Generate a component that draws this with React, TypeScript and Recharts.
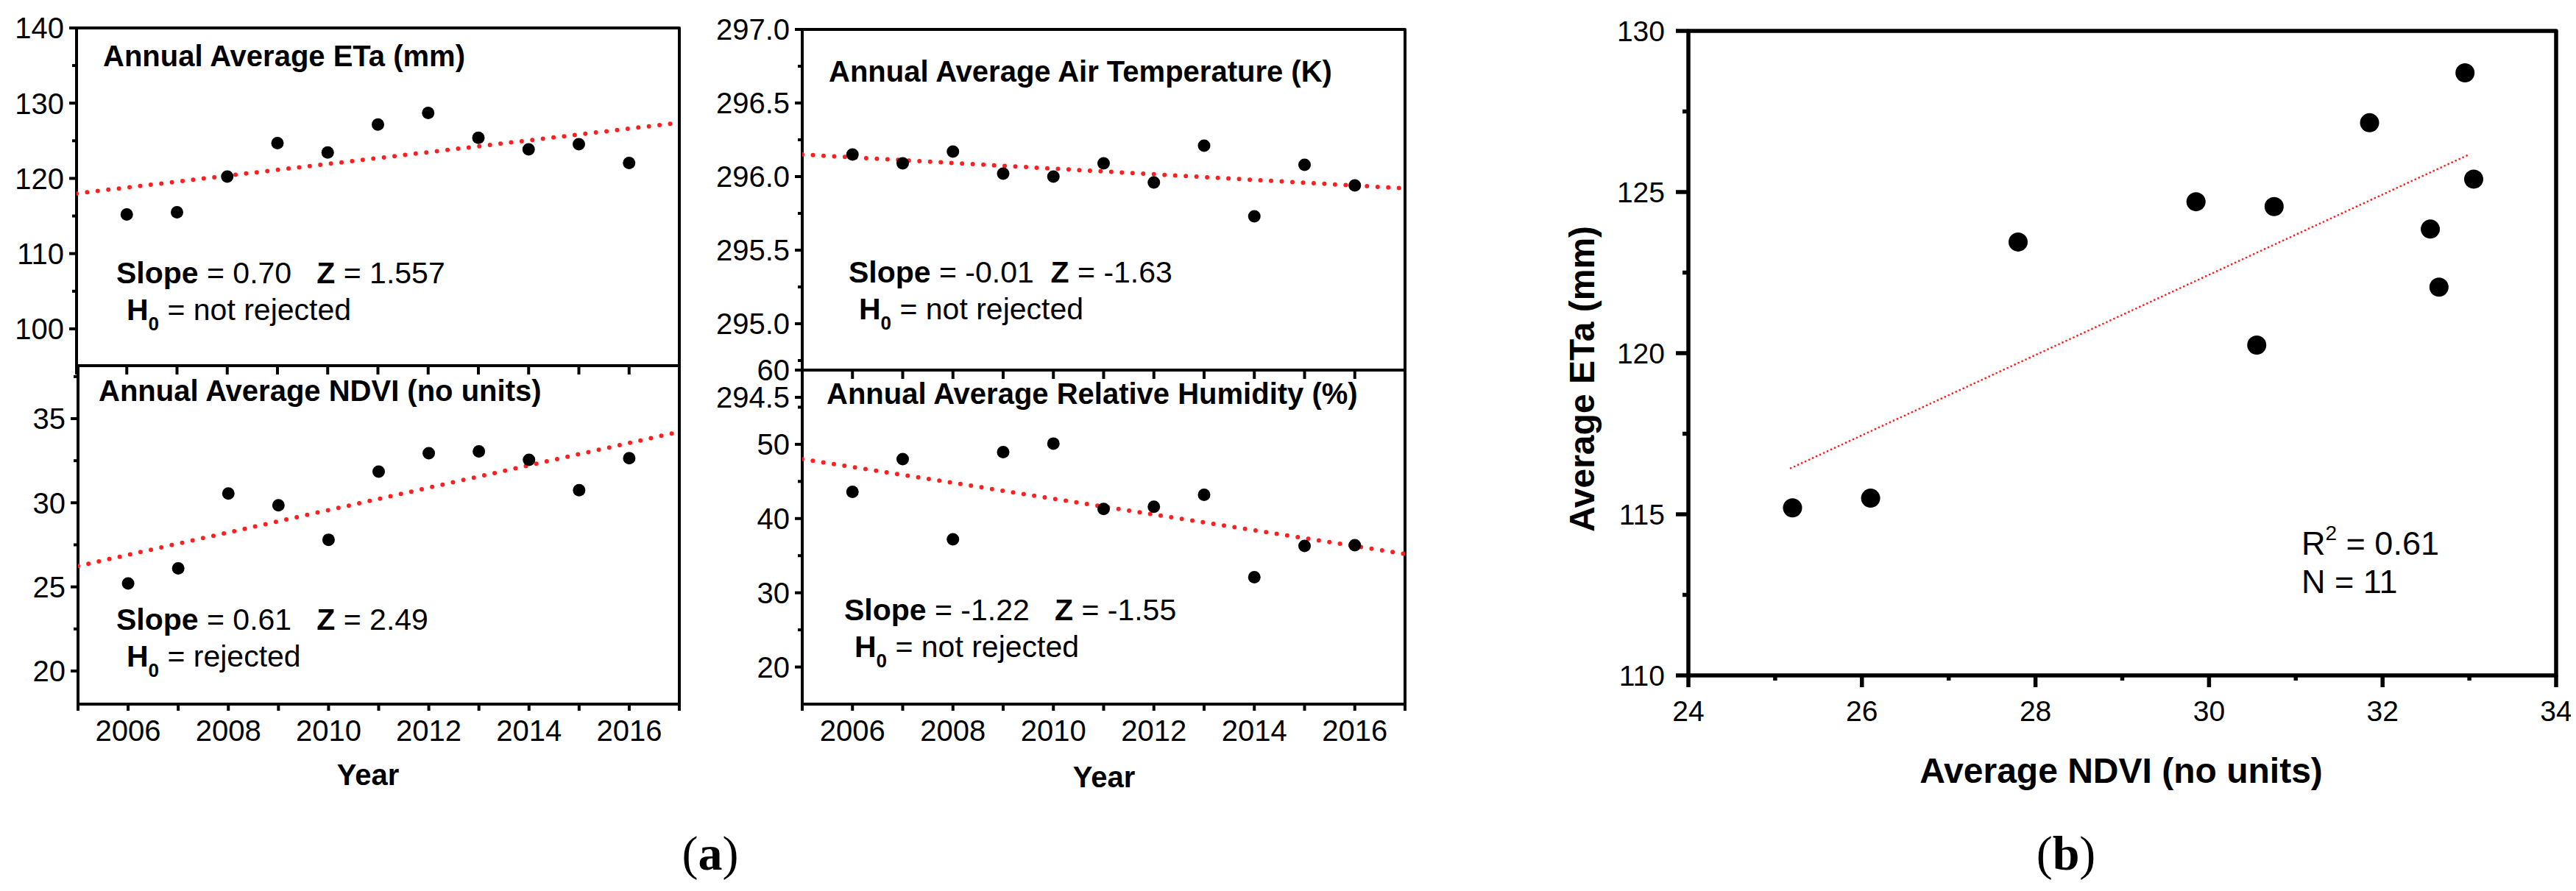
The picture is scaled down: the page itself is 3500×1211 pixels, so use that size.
import React from "react";
import { ScatterChart, Scatter, XAxis, YAxis, ReferenceArea } from "recharts";

// ---- data ----
const years = [2006, 2007, 2008, 2009, 2010, 2011, 2012, 2013, 2014, 2015, 2016];
const etaValues = [115.2, 115.5, 120.25, 124.7, 123.45, 127.15, 128.7, 125.4, 123.85, 124.55, 122.05];
const ndviValues = [25.2, 26.1, 30.55, 29.85, 27.8, 31.85, 32.95, 33.05, 32.55, 30.75, 32.65];
const airTempValues = [296.15, 296.09, 296.17, 296.02, 296.0, 296.09, 295.96, 296.21, 295.73, 296.08, 295.94];
const humidityValues = [43.6, 48.0, 37.2, 48.95, 50.1, 41.3, 41.6, 43.2, 32.1, 36.3, 36.4];

// trend lines (end points)
const trendYears = [2005, 2017];
const etaTrend = [118.0, 127.4];
const ndviTrend = [26.24, 34.22];
const airTempTrend = [296.15, 295.92];
const humidityTrend = [48.0, 35.23];
const scatterTrendX = [25.18, 33.01];
const scatterTrendY = [116.43, 126.18];

// ticks
const yearTicks = [2005, 2006, 2007, 2008, 2009, 2010, 2011, 2012, 2013, 2014, 2015, 2016, 2017];
const yearLabels = [2006, 2008, 2010, 2012, 2014, 2016];
const etaTicks = [100, 105, 110, 115, 120, 125, 130, 135, 140];
const etaLabels = [100, 110, 120, 130, 140];
const ndviTicks = [20, 22.5, 25, 27.5, 30, 32.5, 35, 37.5];
const ndviLabels = [20, 25, 30, 35];
const airTempTicks = [294.5, 294.75, 295, 295.25, 295.5, 295.75, 296, 296.25, 296.5, 296.75, 297];
const airTempLabels = [294.5, 295, 295.5, 296, 296.5, 297];
const humidityTicks = [20, 25, 30, 35, 40, 45, 50, 55, 60];
const humidityLabels = [20, 30, 40, 50, 60];
const bXTicks = [24, 25, 26, 27, 28, 29, 30, 31, 32, 33, 34];
const bXLabels = [24, 26, 28, 30, 32, 34];
const bYTicks = [110, 112.5, 115, 117.5, 120, 122.5, 125, 127.5, 130];
const bYLabels = [110, 115, 120, 125, 130];

const FONT = '"Liberation Sans", Arial, Helvetica, sans-serif';
const SERIF = '"Liberation Serif", "DejaVu Serif", serif';
const RED = "#ff1f1f";

const toPoints = (xs: number[], ys: number[]) => xs.map((x, i) => ({ x, y: ys[i] }));
const isIn = (list: number[], v: number) => list.some((m) => Math.abs(m - v) < 1e-6);

function makeYTick(labels: number[], lens: [number, number], fmt: (v: number) => string, fontSize: number, sw: number, gap: number) {
  return (props: any) => {
    const { x, y, payload } = props;
    const major = isIn(labels, payload.value);
    const len = major ? lens[0] : lens[1];
    return (
      <g>
        <line x1={x - len} x2={x} y1={y} y2={y} stroke="#000" strokeWidth={sw} />
        {major && (
          <text x={x - len - gap} y={y} dy="0.36em" textAnchor="end" fontFamily={FONT} fontSize={fontSize} fill="#000">
            {fmt(payload.value)}
          </text>
        )}
      </g>
    );
  };
}

function makeXTick(labels: number[], lens: [number, number], showLabels: boolean, fontSize: number, sw: number, baseline: number) {
  return (props: any) => {
    const { x, y, payload } = props;
    const major = isIn(labels, payload.value);
    const len = major ? lens[0] : lens[1];
    return (
      <g>
        <line x1={x} x2={x} y1={y} y2={y + len} stroke="#000" strokeWidth={sw} />
        {major && showLabels && (
          <text x={x} y={y + baseline} textAnchor="middle" fontFamily={FONT} fontSize={fontSize} fill="#000">
            {payload.value}
          </text>
        )}
      </g>
    );
  };
}

interface PanelProps {
  plotX: number;
  plotY: number;
  plotW: number;
  plotH: number;
  xDomain: [number, number];
  yDomain: [number, number];
  xTicks: number[];
  xLabels: number[];
  xLens: [number, number];
  showXLabels: boolean;
  yTicks: number[];
  yLabels: number[];
  yLens: [number, number];
  yFmt: (v: number) => string;
  points: { x: number; y: number }[];
  trend: { x: number; y: number }[];
  dotR: number;
  frameW: number;
  fontSize: number;
  yGap: number;
  xBaseline: number;
  trendLine: any;
}

const PADL = 150;
const PADT = 40;
const PADR = 20;
const PADB = 90;

function Panel(p: PanelProps) {
  const w = p.plotW + PADL + PADR;
  const h = p.plotH + PADT + PADB;
  return (
    <div style={{ position: "absolute", left: p.plotX - PADL, top: p.plotY - PADT, width: w, height: h }}>
      <ScatterChart width={w} height={h} margin={{ top: PADT, right: PADR, left: 0, bottom: 0 }}>
        <XAxis
          type="number"
          dataKey="x"
          domain={p.xDomain}
          allowDataOverflow
          ticks={p.xTicks}
          interval={0}
          height={PADB}
          axisLine={false}
          tickLine={false}
          tickSize={0}
          tickMargin={0}
          tick={makeXTick(p.xLabels, p.xLens, p.showXLabels, p.fontSize, p.frameW, p.xBaseline)}
        />
        <YAxis
          type="number"
          dataKey="y"
          domain={p.yDomain}
          allowDataOverflow
          ticks={p.yTicks}
          interval={0}
          width={PADL}
          axisLine={false}
          tickLine={false}
          tickSize={0}
          tickMargin={0}
          tick={makeYTick(p.yLabels, p.yLens, p.yFmt, p.fontSize, p.frameW, p.yGap)}
        />
        <ReferenceArea
          x1={p.xDomain[0]}
          x2={p.xDomain[1]}
          y1={p.yDomain[0]}
          y2={p.yDomain[1]}
          fill="none"
          fillOpacity={0}
          stroke="#000"
          strokeWidth={p.frameW}
          strokeLinejoin="round"
        />
        <Scatter
          data={p.trend}
          isAnimationActive={false}
          line={p.trendLine}
          shape={() => <g />}
        />
        <Scatter
          data={p.points}
          isAnimationActive={false}
          shape={(s: any) => <circle cx={s.cx} cy={s.cy} r={p.dotR} fill="#000" />}
        />
      </ScatterChart>
    </div>
  );
}

const panelATrend = { stroke: RED, strokeWidth: 6, strokeDasharray: "0 14.5", strokeLinecap: "round" };
const intFmt = (v: number) => String(v);
const oneDec = (v: number) => v.toFixed(1);

const common = {
  xTicks: yearTicks,
  xLabels: yearLabels,
  xDomain: [2005, 2017] as [number, number],
  dotR: 8.5,
  frameW: 4,
  fontSize: 40,
  yGap: 7,
  xBaseline: 50,
  trendLine: panelATrend,
};

function StatText({ x, y, slope, z, h0, gap }: { x: number; y: number; slope: string; z: string; h0: string; gap: string }) {
  return (
    <g fontFamily={FONT} fontSize={41} fill="#000">
      <text x={x} y={y} style={{ whiteSpace: "pre" }}>
        <tspan fontWeight="bold">Slope</tspan>
        <tspan>{` = ${slope}${gap}`}</tspan>
        <tspan fontWeight="bold">Z</tspan>
        <tspan>{` = ${z}`}</tspan>
      </text>
      <text x={x + 14} y={y + 50} style={{ whiteSpace: "pre" }}>
        <tspan fontWeight="bold">H</tspan>
        <tspan fontSize={26} dy={14} fontWeight="bold">0</tspan>
        <tspan dy={-14}>{` = ${h0}`}</tspan>
      </text>
    </g>
  );
}

export default function App() {
  return (
    <div style={{ position: "absolute", left: 0, top: 0, width: 3500, height: 1211, background: "#fff", overflow: "hidden" }}>
      <Panel
        {...common}
        plotX={104}
        plotY={38}
        plotW={819}
        plotH={459}
        yDomain={[95.1, 140]}
        xLens={[12, 12]}
        showXLabels={false}
        yTicks={etaTicks}
        yLabels={etaLabels}
        yLens={[10, 6]}
        yFmt={intFmt}
        points={toPoints(years, etaValues)}
        trend={toPoints(trendYears, etaTrend)}
      />
      <Panel
        {...common}
        plotX={1090}
        plotY={40}
        plotW={819}
        plotH={463}
        yDomain={[294.685, 297]}
        xLens={[12, 12]}
        showXLabels={false}
        yTicks={airTempTicks}
        yLabels={airTempLabels}
        yLens={[10, 6]}
        yFmt={oneDec}
        points={toPoints(years, airTempValues)}
        trend={toPoints(trendYears, airTempTrend)}
      />
      <Panel
        {...common}
        plotX={106}
        plotY={497}
        plotW={817}
        plotH={460}
        yDomain={[18.03, 38.15]}
        xLens={[9, 9]}
        showXLabels={true}
        yTicks={ndviTicks}
        yLabels={ndviLabels}
        yLens={[10, 6]}
        yFmt={intFmt}
        points={toPoints(years, ndviValues)}
        trend={toPoints(trendYears, ndviTrend)}
      />
      <Panel
        {...common}
        plotX={1090}
        plotY={503}
        plotW={819}
        plotH={454}
        yDomain={[15, 60]}
        xLens={[9, 9]}
        showXLabels={true}
        yTicks={humidityTicks}
        yLabels={humidityLabels}
        yLens={[10, 6]}
        yFmt={intFmt}
        points={toPoints(years, humidityValues)}
        trend={toPoints(trendYears, humidityTrend)}
      />
      <Panel
        plotX={2294}
        plotY={42}
        plotW={1179}
        plotH={876}
        xDomain={[24, 34]}
        yDomain={[110, 130]}
        xTicks={bXTicks}
        xLabels={bXLabels}
        xLens={[16, 7]}
        showXLabels={true}
        yTicks={bYTicks}
        yLabels={bYLabels}
        yLens={[17, 8]}
        yFmt={intFmt}
        points={toPoints(ndviValues, etaValues)}
        trend={toPoints(scatterTrendX, scatterTrendY)}
        dotR={13}
        frameW={5.5}
        fontSize={39}
        yGap={15}
        xBaseline={62}
        trendLine={{ stroke: RED, strokeWidth: 2.8, strokeDasharray: "0 5.5", strokeLinecap: "round" }}
      />
      <svg width={3500} height={1211} style={{ position: "absolute", left: 0, top: 0, pointerEvents: "none" }}>
        <g fontFamily={FONT} fontWeight="bold" fontSize={40} fill="#000">
          <text x={140} y={90}>Annual Average ETa (mm)</text>
          <text x={1126} y={111}>Annual Average Air Temperature (K)</text>
          <text x={134} y={545}>Annual Average NDVI (no units)</text>
          <text x={1123} y={549}>Annual Average Relative Humidity (%)</text>
          <text x={500} y={1067} textAnchor="middle">Year</text>
          <text x={1500} y={1070} textAnchor="middle">Year</text>
        </g>
        <StatText x={158} y={385} slope="0.70" z="1.557" h0="not rejected" gap="   " />
        <StatText x={158} y={856} slope="0.61" z="2.49" h0="rejected" gap="   " />
        <StatText x={1153} y={384} slope="-0.01" z="-1.63" h0="not rejected" gap="  " />
        <StatText x={1147} y={843} slope="-1.22" z="-1.55" h0="not rejected" gap="   " />
        <text
          x={2149}
          y={515}
          transform="rotate(-90 2149 515)"
          textAnchor="middle"
          dominantBaseline="central"
          fontFamily={FONT}
          fontWeight="bold"
          fontSize={48}
        >
          Average ETa (mm)
        </text>
        <text x={2882} y={1064} textAnchor="middle" fontFamily={FONT} fontWeight="bold" fontSize={48}>
          Average NDVI (no units)
        </text>
        <g fontFamily={FONT} fontSize={45} fill="#000">
          <text x={3127} y={754}>
            R<tspan fontSize={28} dy={-20}>2</tspan>
            <tspan dy={20}> = 0.61</tspan>
          </text>
          <text x={3127} y={806}>N = 11</text>
        </g>
        <g fontFamily={SERIF} fontSize={66} fill="#000" textAnchor="middle">
          <text x={965} y={1182}>
            (<tspan fontWeight="bold">a</tspan>)
          </text>
          <text x={2807} y={1182}>
            (<tspan fontWeight="bold">b</tspan>)
          </text>
        </g>
      </svg>
    </div>
  );
}
